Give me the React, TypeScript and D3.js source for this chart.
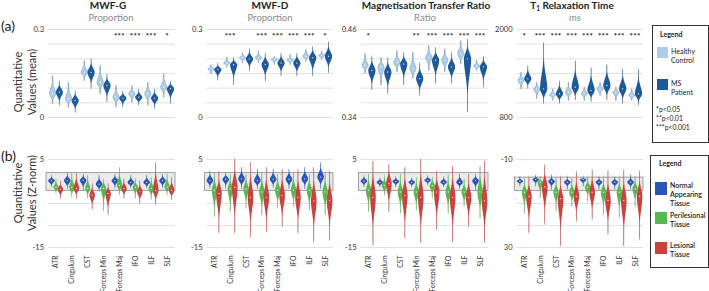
import React from 'react';
import * as d3 from 'd3';

const tracts = ['ATR', 'Cingulum', 'CST', 'Forceps Min', 'Forceps Maj', 'IFO', 'ILF', 'SLF'];

const titles = ['MWF-G', 'MWF-D', 'Magnetisation Transfer Ratio', 'T1 Relaxation Time'];
const units = ['Proportion', 'Proportion', 'Ratio', 'ms'];
const meanDomains: [number, number][] = [[0, 0.3], [0, 0.3], [0.34, 0.46], [800, 2000]];
const meanTickLabels = [['0.3', '0'], ['0.3', '0'], ['0.46', '0.34'], ['2000', '800']];
const zDomains: [number, number][] = [[5, -15], [5, -15], [5, -15], [-10, 30]];
const zTickLabels = [['5', '-15'], ['5', '-15'], ['5', '-15'], ['-10', '30']];

// top row: [lo, median, hi] per tract
const mwfgHC = [[0.047, 0.081, 0.143], [0.035, 0.064, 0.12], [0.126, 0.154, 0.194], [0.081, 0.12, 0.177], [0.035, 0.069, 0.109], [0.052, 0.081, 0.109], [0.041, 0.081, 0.12], [0.069, 0.103, 0.149]];
const mwfgMS = [[0.041, 0.086, 0.126], [0.016, 0.058, 0.092], [0.098, 0.154, 0.202], [0.052, 0.109, 0.149], [0.035, 0.066, 0.092], [0.041, 0.069, 0.098], [0.03, 0.066, 0.098], [0.047, 0.098, 0.126]];
const mwfdHC = [[0.149, 0.166, 0.18], [0.171, 0.186, 0.206], [0.186, 0.204, 0.221], [0.186, 0.204, 0.226], [0.181, 0.198, 0.209], [0.181, 0.195, 0.215], [0.192, 0.209, 0.232], [0.198, 0.211, 0.226]];
const mwfdMS = [[0.126, 0.164, 0.186], [0.111, 0.18, 0.206], [0.158, 0.2, 0.236], [0.124, 0.181, 0.221], [0.141, 0.186, 0.221], [0.141, 0.186, 0.221], [0.141, 0.204, 0.243], [0.152, 0.209, 0.26]];
const mtrHC = [[0.4, 0.411, 0.427], [0.384, 0.409, 0.422], [0.402, 0.415, 0.431], [0.393, 0.406, 0.429], [0.404, 0.422, 0.438], [0.402, 0.418, 0.434], [0.413, 0.427, 0.445], [0.404, 0.41, 0.418]];
const mtrMS = [[0.377, 0.404, 0.4245], [0.372, 0.402, 0.422], [0.384, 0.413, 0.429], [0.37, 0.393, 0.415], [0.386, 0.418, 0.436], [0.386, 0.409, 0.429], [0.347, 0.42, 0.447], [0.381, 0.409, 0.424]];
const t1HC = [[1191, 1305, 1418], [1055, 1191, 1282], [1032, 1109, 1191], [1032, 1145, 1282], [1032, 1132, 1214], [1100, 1191, 1282], [1032, 1145, 1214], [1032, 1100, 1191]];
const t1MS = [[1191, 1327, 1509], [987, 1191, 1827], [987, 1123, 1305], [1032, 1214, 1577], [1009, 1168, 1486], [1032, 1236, 1532], [987, 1191, 1464], [964, 1123, 1464]];

const starsMWFG = ['', '', '', '', '***', '***', '***', '*'];
const starsMWFD = ['', '***', '', '***', '***', '***', '***', '*'];
const starsMTR = ['*', '', '', '**', '***', '***', '***', '***'];
const starsT1 = ['*', '***', '***', '***', '***', '***', '***', '***'];

// bottom row (z-norm): [lo, median, hi] per tract
const zMwfgNAWM = [[-1.3, 0.2, 1.5], [-1.7, 0.2, 2.1], [-2, 0.3, 1.8], [-2.3, -0.6, 1.5], [-1.6, 0.2, 1.8], [-1.6, -0.2, 1.5], [-1.6, -0.2, 1.5], [-1.6, 0.2, 1.8]];
const zMwfgPeri = [[-2.7, -1.3, 0.7], [-3.6, -1.3, 2.0], [-3.9, -1.6, 1.5], [-6.8, -1.6, 0.7], [-3.1, -0.9, 3.3], [-3.9, -1.3, 0.7], [-4.2, -1.6, 1.1], [-3.1, -1.3, 1.8]];
const zMwfgLes = [[-3.9, -1.8, 0.2], [-3.9, -1.6, 2.1], [-6.4, -3.1, -0.4], [-7.6, -2.7, -0.4], [-3.9, -1.6, 0.7], [-5.1, -2.3, 0.2], [-5.4, -2.0, 4.4], [-4.2, -2.0, 1.1]];
const zMwfdNAWM = [[-1.6, 0.2, 2.5], [-1.6, 0.5, 2.1], [-1.7, 0.6, 3.3], [-1.7, 0.2, 2.9], [-1.4, 0.5, 2.9], [-1.7, 0.5, 2.9], [-1.7, 0.6, 3.3], [-1.7, 1.0, 4.4]];
const zMwfdPeri = [[-8.1, -2.0, 2.1], [-7, -1.7, 1.75], [-6.2, -1.7, 1.75], [-7.7, -2.4, 2.1], [-6.2, -2.0, 1.75], [-5.8, -2.0, 2.1], [-6.6, -2.0, 1.75], [-7.7, -2.4, 2.1]];
const zMwfdLes = [[-11.8, -2.7, 2.5], [-11.8, -1.3, 5.2], [-12.7, -3.6, 4.4], [-11.5, -3.6, 3.3], [-10.4, -3.2, 2.9], [-11.8, -3.6, 2.9], [-13.9, -4.4, 3.3], [-13.4, -4.3, 2.5]];
const zMtrNAWM = [[-1.3, 0.1, 1.4], [-1.3, -0.2, 0.9], [-1.3, 0, 1.2], [-1.3, -0.2, 0.9], [-0.9, 0.3, 1.4], [-1.3, -0.2, 1.2], [-1.7, -0.2, 1.75], [-2.0, 0.2, 1.75]];
const zMtrPeri = [[-7, -2.0, 1.75], [-3.2, -0.9, 1.4], [-7.3, -2.4, 1.75], [-6.6, -2.4, 1.0], [-3.9, -0.9, 1.0], [-7.3, -2.4, 1.75], [-5.8, -2.4, 0.6], [-8.5, -2.4, 3.6]];
const zMtrLes = [[-14.5, -3.6, 4.8], [-7, -0.5, 4], [-13, -3.2, 3.3], [-14, -3.6, 5.2], [-11.1, -2.4, 2.5], [-13.9, -3.6, 3.6], [-10.4, -3.6, 1.75], [-14, -4.4, 4.8]];
const zT1NAWM = [[-2, -0.1, 1.8], [-2.7, -0.9, 1.8], [-2.7, -0.1, 3.3], [-2, 0.3, 3.3], [-2, -0.9, 1.8], [-2, 0.3, 3.3], [-2, 0.3, 3.3], [-2.7, 0.3, 3.3]];
const zT1Peri = [[-1.2, 4.9, 14], [-2, 0.3, 7], [-1.2, 4.9, 13], [-1.2, 4.9, 11], [-2, 2.6, 8.6], [-2, 4.9, 14.7], [-2, 4.9, 16], [-2, 3.4, 11]];
const zT1Les = [[-2, 6.7, 23], [-7.3, 2.4, 19], [-2, 7.8, 29], [-4.2, 6.7, 17.7], [-5, 4.9, 17], [-4.5, 8.6, 23.6], [-5, 8.6, 29], [-4.5, 6.7, 26]];

const zBoxRange = [-2, 2];
const zBoxRangeT1 = [-2, 4];

const meanHC = [mwfgHC, mwfdHC, mtrHC, t1HC];
const meanMS = [mwfgMS, mwfdMS, mtrMS, t1MS];
const stars = [starsMWFG, starsMWFD, starsMTR, starsT1];
const zNAWM = [zMwfgNAWM, zMwfdNAWM, zMtrNAWM, zT1NAWM];
const zPeri = [zMwfgPeri, zMwfdPeri, zMtrPeri, zT1Peri];
const zLes = [zMwfgLes, zMwfdLes, zMtrLes, zT1Les];

const FONT = 'Lato, "Open Sans", sans-serif';
const panelX: [number, number][] = [[48, 175], [206.5, 333], [360.5, 488], [516.5, 643]];
const titleCx = [108, 270, 426, 572];
const unitCx = [111, 270, 425, 575];
const TOP = [29.5, 117.5];
const BOT = [159.5, 247.5];

const C_HC = '#afcce6';
const C_HC_STROKE = '#7096bd';
const C_MS = '#1e5a99';
const C_NAWM = '#2a55b8';
const C_PERI = '#55b94f';
const C_LES = '#c8433d';

type Row = number[];

function violinPath(d: Row, y: d3.ScaleLinear<number, number>, cx: number, hw: number) {
  const [lo, mid, hi] = d;
  const n = 48;
  const vals: number[] = [];
  for (let i = 0; i <= n; i++) vals.push(lo + ((hi - lo) * i) / n);
  vals.push(mid);
  vals.sort((a, b) => a - b);
  const pts = vals.map((v) => {
    const s = v < mid ? (mid - lo) / 3.5 : (hi - mid) / 3.5;
    const w = s > 0 ? hw * Math.exp(-0.5 * ((v - mid) / s) ** 2) : hw;
    return { v, w: Math.max(w, 0.25) };
  });
  const area = d3
    .area<{ v: number; w: number }>()
    .y((p) => y(p.v))
    .x0((p) => cx - p.w)
    .x1((p) => cx + p.w)
    .curve(d3.curveCatmullRom);
  return area(pts) || '';
}

function Violin({ d, y, cx, hw, fill, stroke }: { d: Row; y: any; cx: number; hw: number; fill: string; stroke?: string }) {
  return (
    <g>
      <line x1={cx} x2={cx} y1={y(d[0]) - 1.5} y2={y(d[2]) + 1.5} stroke="#9a9a9a" strokeWidth={0.6} />
      <path d={violinPath(d, y, cx, hw)} fill={fill} stroke={stroke || 'none'} strokeWidth={0.5} />
      <circle cx={cx} cy={y(d[1])} r={0.7} fill="#ffffff" opacity={0.8} />
    </g>
  );
}

function TopPanel({ i }: { i: number }) {
  const [x0, x1] = panelX[i];
  const xb = d3.scaleBand<string>().domain(tracts).range([x0, x1]);
  const y = d3.scaleLinear().domain(meanDomains[i]).range([TOP[1], TOP[0]]);
  const grid = d3.range(7).map((k) => meanDomains[i][0] + ((meanDomains[i][1] - meanDomains[i][0]) * k) / 6);
  return (
    <g>
      {grid.map((g, k) => (
        <line key={k} x1={x0} x2={x1} y1={y(g)} y2={y(g)} stroke="#d9d9d9" strokeWidth={0.8} />
      ))}
      <text x={x0 - 4} y={TOP[0]} textAnchor="end" dominantBaseline="central" fontSize={7.5} fill="#333" fontFamily={FONT}>
        {meanTickLabels[i][0]}
      </text>
      <text x={x0 - 4} y={TOP[1]} textAnchor="end" dominantBaseline="central" fontSize={7.5} fill="#333" fontFamily={FONT}>
        {meanTickLabels[i][1]}
      </text>
      {tracts.map((t, k) => {
        const cx = (xb(t) as number) + xb.bandwidth() / 2;
        return (
          <g key={t}>
            <Violin d={meanHC[i][k]} y={y} cx={cx - 3.4} hw={3.1} fill={C_HC} stroke={C_HC_STROKE} />
            <Violin d={meanMS[i][k]} y={y} cx={cx + 3.4} hw={3.6} fill={C_MS} />
            <text x={cx} y={38.5} textAnchor="middle" fontSize={8} fontWeight="bold" fill="#222" fontFamily={FONT} letterSpacing={0.3}>
              {stars[i][k]}
            </text>
          </g>
        );
      })}
      <text x={titleCx[i]} y={9} textAnchor="middle" fontSize={10} fontWeight="bold" fill="#222" fontFamily={FONT}>
        {i === 3 ? (
          <>
            T<tspan fontSize={6.5} dy={2}>1</tspan>
            <tspan dy={-2}> Relaxation Time</tspan>
          </>
        ) : (
          titles[i]
        )}
      </text>
      <text x={unitCx[i]} y={20.5} textAnchor="middle" fontSize={9.5} fill="#8a8a8a" fontFamily={FONT}>
        {units[i]}
      </text>
    </g>
  );
}

function BottomPanel({ i }: { i: number }) {
  const [x0, x1] = panelX[i];
  const xb = d3.scaleBand<string>().domain(tracts).range([x0, x1]);
  const y = d3.scaleLinear().domain(zDomains[i]).range([BOT[0], BOT[1]]);
  const grid = d3.range(5).map((k) => zDomains[i][0] + ((zDomains[i][1] - zDomains[i][0]) * k) / 4);
  const box = i === 3 ? zBoxRangeT1 : zBoxRange;
  const yb0 = Math.min(y(box[0]), y(box[1]));
  const yb1 = Math.max(y(box[0]), y(box[1]));
  return (
    <g>
      {grid.map((g, k) => (
        <line key={k} x1={x0} x2={x1} y1={y(g)} y2={y(g)} stroke="#d9d9d9" strokeWidth={0.8} />
      ))}
      <rect x={x0 - 2} y={yb0} width={x1 - x0 + 2} height={yb1 - yb0} fill="#e6e6e6" fillOpacity={0.8} stroke="#7a7a7a" strokeWidth={0.7} />
      <text x={x0 - 4} y={BOT[0]} textAnchor="end" dominantBaseline="central" fontSize={7.5} fill="#333" fontFamily={FONT}>
        {zTickLabels[i][0]}
      </text>
      <text x={x0 - 4} y={BOT[1]} textAnchor="end" dominantBaseline="central" fontSize={7.5} fill="#333" fontFamily={FONT}>
        {zTickLabels[i][1]}
      </text>
      {tracts.map((t, k) => {
        const cx = (xb(t) as number) + xb.bandwidth() / 2;
        return (
          <g key={t}>
            <Violin d={zNAWM[i][k]} y={y} cx={cx - 4.5} hw={3.3} fill={C_NAWM} />
            <Violin d={zPeri[i][k]} y={y} cx={cx} hw={2.6} fill={C_PERI} />
            <Violin d={zLes[i][k]} y={y} cx={cx + 4.5} hw={2.8} fill={C_LES} />
            <text
              transform={`translate(${cx + 2.5},255.5) rotate(-90)`}
              textAnchor="end"
              fontSize={6.8}
              fill="#333"
              fontFamily={FONT}
            >
              {t}
            </text>
          </g>
        );
      })}
    </g>
  );
}

function YTitle({ cy, lines }: { cy: number; lines: string[] }) {
  return (
    <g fontFamily={FONT} fontSize={11} fill="#333">
      <text transform={`translate(17,${cy}) rotate(-90)`} textAnchor="middle" dominantBaseline="central">
        {lines[0]}
      </text>
      <text transform={`translate(31,${cy}) rotate(-90)`} textAnchor="middle" dominantBaseline="central">
        {lines[1]}
      </text>
    </g>
  );
}

export default function App() {
  return (
    <svg width={709} height={291} style={{ position: 'absolute', left: 0, top: 0, background: '#fff' }}>
      <rect width={709} height={291} fill="#fff" />
      <text x={1} y={31} fontSize={14} fill="#222" fontFamily={FONT}>(a)</text>
      <text x={1} y={161} fontSize={14} fill="#222" fontFamily={FONT}>(b)</text>
      <YTitle cy={82} lines={['Quantitative', 'Values (mean)']} />
      <YTitle cy={193} lines={['Quantitative', 'Values (Z-norm)']} />
      {[0, 1, 2, 3].map((i) => (
        <TopPanel key={`t${i}`} i={i} />
      ))}
      {[0, 1, 2, 3].map((i) => (
        <BottomPanel key={`b${i}`} i={i} />
      ))}
      {/* legend top */}
      <g fontFamily={FONT} fill="#222">
        <rect x={652.5} y={25.5} width={56} height={117} fill="#fff" stroke="#333" strokeWidth={1} />
        <text x={660} y={37} fontSize={7} fontWeight="bold">Legend</text>
        <rect x={657} y={47} width={11} height={11} fill={C_HC} />
        <text x={671} y={54} fontSize={7}>Healthy</text>
        <text x={671} y={62.5} fontSize={7}>Control</text>
        <rect x={657} y={79} width={11} height={11} fill={C_MS} />
        <text x={671} y={86} fontSize={7}>MS</text>
        <text x={671} y={94.5} fontSize={7}>Patient</text>
        <text x={656} y={112} fontSize={6.8}>*p&lt;0.05</text>
        <text x={656} y={121} fontSize={6.8}>**p&lt;0.01</text>
        <text x={656} y={130} fontSize={6.8}>***p&lt;0.001</text>
      </g>
      {/* legend bottom */}
      <g fontFamily={FONT} fill="#222">
        <rect x={650.5} y={155.5} width={58} height={112} fill="#fff" stroke="#333" strokeWidth={1} />
        <text x={659} y={166} fontSize={7} fontWeight="bold">Legend</text>
        <rect x={655} y={182} width={12} height={13} fill={C_NAWM} />
        <text x={670} y={188} fontSize={7} fontWeight={600}>Normal</text>
        <text x={670} y={197} fontSize={7} fontWeight={600}>Appearing</text>
        <text x={670} y={206} fontSize={7} fontWeight={600}>Tissue</text>
        <rect x={655} y={212} width={12} height={12} fill={C_PERI} />
        <text x={670} y={218} fontSize={7} fontWeight={600}>Perilesional</text>
        <text x={670} y={227} fontSize={7} fontWeight={600}>Tissue</text>
        <rect x={655} y={242} width={12} height={12} fill={C_LES} />
        <text x={670} y={247.5} fontSize={7} fontWeight={600}>Lesional</text>
        <text x={670} y={256.5} fontSize={7} fontWeight={600}>Tissue</text>
      </g>
    </svg>
  );
}
